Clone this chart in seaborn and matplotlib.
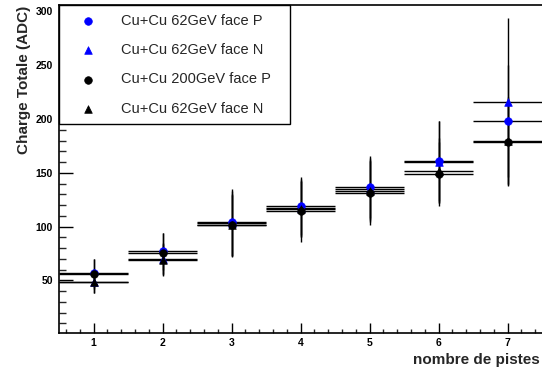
import numpy as np
import pandas as pd
import matplotlib
matplotlib.use('Agg')
import matplotlib.pyplot as plt
from matplotlib.ticker import MultipleLocator
import seaborn as sns

# nombre de pistes
pistes = [1, 2, 3, 4, 5, 6, 7]

# Cu+Cu 62GeV face P
p62_P = [57, 77, 104, 119, 137, 161, 198]
p62_P_err = [13, 17, 31, 27, 29, 37, 52]
# Cu+Cu 62GeV face N
p62_N = [48, 70, 103, 117, 135, 160, 216]
p62_N_err = [10, 15, 30, 27, 29, 38, 78]
# Cu+Cu 200GeV face P
p200_P = [56, 75, 101, 114, 131, 149, 179]
p200_P_err = [14, 19, 29, 28, 30, 30, 40]
# Cu+Cu 62GeV face N (second set, black)
p62_N2 = [48, 69, 101, 116, 133, 152, 180]
p62_N2_err = [10, 15, 28, 26, 29, 30, 40]

series = [
    ('Cu+Cu 62GeV face P', p62_P, p62_P_err, '#0000ff', 'o'),
    ('Cu+Cu 62GeV face N', p62_N, p62_N_err, '#0000ff', '^'),
    ('Cu+Cu 200GeV face P', p200_P, p200_P_err, 'black', 'o'),
    ('Cu+Cu 62GeV face N', p62_N2, p62_N2_err, 'black', '^'),
]

sns.set_style('ticks')
plt.rcParams['font.family'] = ['Liberation Sans', 'DejaVu Sans']

fig = plt.figure(figsize=(5.42, 3.73), dpi=100)
ax = fig.add_axes([59 / 542, 40 / 373, 483 / 542, 328 / 373])

for i, (label, vals, errs, color, marker) in enumerate(series):
    df = pd.DataFrame({'x': pistes, 'y': vals})
    ax.errorbar(df['x'], df['y'], xerr=0.5, yerr=errs, fmt='none',
                ecolor='black', elinewidth=1.0, capsize=0, zorder=2)
    sns.scatterplot(data=df, x='x', y='y', ax=ax, color=color, marker=marker,
                    s=30, edgecolor=color, linewidth=0.5, label=label,
                    zorder=3 + i)

ax.set_xlim(0.5, 7.5)
ax.set_ylim(1, 306)
ax.xaxis.set_major_locator(MultipleLocator(1))
ax.xaxis.set_minor_locator(MultipleLocator(0.2))
ax.yaxis.set_major_locator(MultipleLocator(50))
ax.yaxis.set_minor_locator(MultipleLocator(10))

ax.tick_params(axis='x', which='both', bottom=True, top=False)
ax.tick_params(axis='y', which='both', left=True, right=False)
ax.tick_params(axis='x', which='major', direction='in', length=7, width=1,
               pad=3.5, labelsize=7.5, colors='black')
ax.tick_params(axis='x', which='minor', direction='in', length=3, width=1)
ax.tick_params(axis='y', which='major', direction='in', length=10, width=1,
               pad=4.5, labelsize=7.5, colors='black')
ax.tick_params(axis='y', which='minor', direction='in', length=5, width=1)
for lab in ax.get_xticklabels() + ax.get_yticklabels():
    lab.set_fontweight('bold')

for side in ['left', 'bottom', 'top']:
    ax.spines[side].set_visible(True)
    ax.spines[side].set_linewidth(1.2)
    ax.spines[side].set_color('black')
ax.spines['right'].set_visible(False)

ax.set_xlabel('')
ax.set_ylabel('')
fig.text(540 / 542, 1 - 360 / 373, 'nombre de pistes', ha='right', va='center',
         fontsize=11, fontweight='bold')
fig.text(24 / 542, 1 - 80 / 373, 'Charge Totale (ADC)', ha='center', va='center',
         rotation=90, fontsize=11, fontweight='bold')

leg = ax.legend(loc='upper left', bbox_to_anchor=(0, 0.64, 0.478, 0.36),
                mode='expand', borderaxespad=0, fontsize=10.5, frameon=True,
                fancybox=False, framealpha=1, edgecolor='black',
                labelspacing=1.05, handlelength=2.8, handletextpad=0.85,
                borderpad=0.6, markerscale=1.0)
leg.get_frame().set_linewidth(1.0)

fig.savefig('out.png', dpi=100)
